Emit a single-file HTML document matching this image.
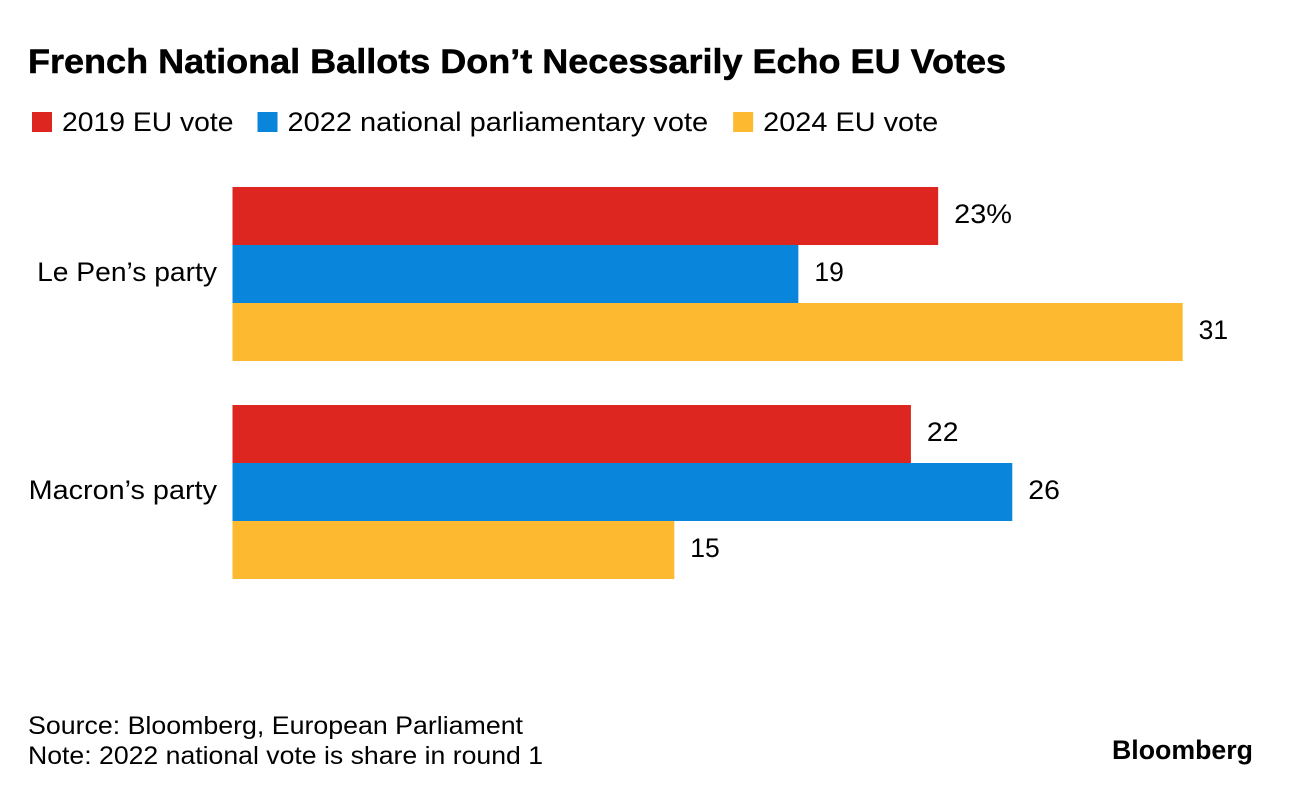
<!DOCTYPE html>
<html lang="en">
<head>
<meta charset="utf-8">
<title>French National Ballots Don't Necessarily Echo EU Votes</title>
<style>
html,body{margin:0;padding:0;background:#fff;}
body{width:1292px;height:794px;overflow:hidden;position:relative;}
svg{display:block;position:absolute;left:0;top:0;}
text{font-family:"Liberation Sans",sans-serif;fill:#000;}
</style>
</head>
<body>
<svg id="chart" width="1292" height="794" viewBox="0 0 1292 794" xmlns="http://www.w3.org/2000/svg">
<rect width="1292" height="794" fill="#fff"></rect>
<text x="28" y="73" font-size="34" font-weight="700" stroke="#000" stroke-width="0.5" textLength="978" lengthAdjust="spacingAndGlyphs">French National Ballots Don’t Necessarily Echo EU Votes</text>
<text x="28" y="734" font-size="25" textLength="495" lengthAdjust="spacingAndGlyphs">Source: Bloomberg, European Parliament</text>
<text x="28" y="764" font-size="25" textLength="515" lengthAdjust="spacingAndGlyphs">Note: 2022 national vote is share in round 1</text>
<text x="1112" y="759" font-size="27" font-weight="700" textLength="141" lengthAdjust="spacingAndGlyphs">Bloomberg</text>
<g id="legend"></g>
<g id="bars"></g>
</svg>
<script>
const categories = ["Le Pen’s party", "Macron’s party"];
const seriesNames = ["2019 EU vote", "2022 national parliamentary vote", "2024 EU vote"];
const vote2019 = [23.32, 22.42];
const vote2022 = [18.7, 25.77];
const vote2024 = [31.4, 14.6];
const valueLabels2019 = ["23%", "22"];
const valueLabels2022 = ["19", "26"];
const valueLabels2024 = ["31", "15"];

const seriesColors = ["#dc261f", "#0a85dc", "#fdb92f"];
const NS = "http://www.w3.org/2000/svg";
const allSeries = [vote2019, vote2022, vote2024];
const allLabels = [valueLabels2019, valueLabels2022, valueLabels2024];

function xScale(v) { return 232.5 + v * 30.26; }
function groupTop(i) { return 187 + i * 218; }
const barHeight = 58;

const barsLayer = document.getElementById("bars");
const legendLayer = document.getElementById("legend");

function make(tag, attrs, parent, text) {
  const el = document.createElementNS(NS, tag);
  for (const k in attrs) el.setAttribute(k, attrs[k]);
  if (text !== undefined) el.textContent = text;
  parent.appendChild(el);
  return el;
}

/* Widen the glyphs horizontally; returns the resulting text width. */
function stretch(el, factor) {
  const w = el.getComputedTextLength() * factor;
  el.setAttribute("textLength", w);
  el.setAttribute("lengthAdjust", "spacingAndGlyphs");
  return w;
}

/* The reference typeface has a narrow "1" and a wider "%". */
function valueStretch(label) {
  if (label.indexOf("%") >= 0) return 1.09;
  return label.indexOf("1") >= 0 ? 1.0 : 1.07;
}

const categoryStretch = [1.065, 1.087];
categories.forEach(function (cat, c) {
  const label = make("text", {
    x: 0, y: groupTop(c) + 94, "font-size": 26.5
  }, barsLayer, cat);
  
  
  const labelWidth = stretch(label, categoryStretch[c]);
  label.setAttribute("x", 217 - labelWidth);

  allSeries.forEach(function (values, s) {
    const top = groupTop(c) + s * barHeight;
    const bar = make("rect", {
      x: xScale(0), y: top, width: xScale(values[c]) - xScale(0),
      height: barHeight, fill: seriesColors[s]
    }, barsLayer);
    
    

    const val = make("text", {
      x: xScale(values[c]) + 16, y: top + 36, "font-size": 26.5
    }, barsLayer, allLabels[s][c]);
    
    
    stretch(val, valueStretch(allLabels[s][c]));
  });
});

let legendX = 32;
const legendStretch = [1.068, 1.094, 1.09];
const legendGaps = [24, 25, 0];
seriesNames.forEach(function (name, s) {
  const swatch = make("rect", {
    x: legendX, y: 112, width: 20, height: 20, fill: seriesColors[s]
  }, legendLayer);
  
  

  const txt = make("text", {
    x: legendX + 30, y: 131, "font-size": 26.5
  }, legendLayer, name);
  
  

  legendX += 30 + stretch(txt, legendStretch[s]) + legendGaps[s];
});
</script>
</body>
</html>
